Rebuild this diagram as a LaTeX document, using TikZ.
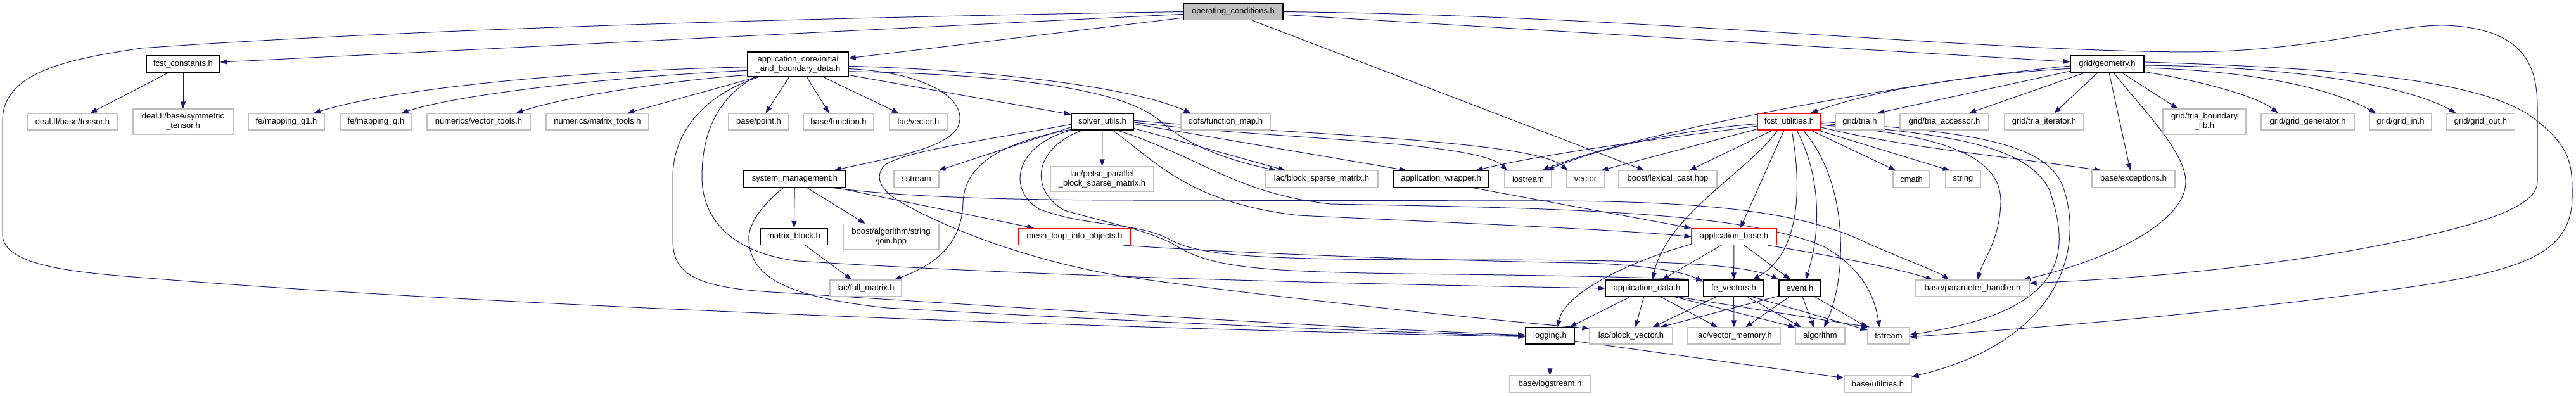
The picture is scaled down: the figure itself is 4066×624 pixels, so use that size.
\documentclass[tikz,border=0pt]{standalone}
\usepackage{fontspec}
\setmainfont{Liberation Sans}
\usetikzlibrary{arrows.meta,backgrounds}
\definecolor{edgeblue}{HTML}{191970}
\definecolor{boxgray}{HTML}{BFBFBF}
\newcommand{\nodefnt}{\fontsize{13}{15}\selectfont}
\tikzset{
  basebox/.style={rectangle, inner sep=0pt, minimum height=26pt, fill=white, font=\nodefnt, align=center},
  extbox/.style={basebox, draw=boxgray, line width=1.1pt},
  docbox/.style={basebox, draw=black, line width=1.4pt},
  redbox/.style={basebox, draw=red, line width=1.1pt},
  rootbox/.style={basebox, draw=black, line width=1.4pt, fill=boxgray},
  dep/.style={draw=edgeblue, line width=1.0pt, -{Triangle[length=11pt,width=8pt]}}
}
\begin{document}
\begin{tikzpicture}[x=1pt,y=-1pt]
\useasboundingbox (0,0) rectangle (4066,624);
% ---------------- nodes ----------------
\node[rootbox, minimum width=157pt] (oper) at (1946.5,18.5) {operating\_conditions.h};
\node[docbox, minimum width=116pt] (fconst) at (289,101) {fcst\_constants.h};
\node[docbox, minimum width=159pt, minimum height=39pt] (iabd) at (1259.5,101.5) {application\_core/initial\\\_and\_boundary\_data.h};
\node[docbox, minimum width=116pt] (geom) at (3326,101) {grid/geometry.h};
% row 3
\node[extbox, minimum width=143pt] (tensor) at (114.5,192) {deal.II/base/tensor.h};
\node[extbox, minimum width=158pt, minimum height=40pt] (symt) at (289,192) {deal.II/base/symmetric\\\_tensor.h};
\node[extbox, minimum width=120pt] (mq1) at (452,192) {fe/mapping\_q1.h};
\node[extbox, minimum width=113pt] (mq) at (593.5,192) {fe/mapping\_q.h};
\node[extbox, minimum width=163pt] (vtools) at (755.5,192) {numerics/vector\_tools.h};
\node[extbox, minimum width=162pt] (mtools) at (943,192) {numerics/matrix\_tools.h};
\node[extbox, minimum width=95pt] (point) at (1197.5,192) {base/point.h};
\node[extbox, minimum width=111pt] (func) at (1323.5,192) {base/function.h};
\node[extbox, minimum width=91pt] (lvec) at (1449.5,192) {lac/vector.h};
\node[docbox, minimum width=98pt] (solver) at (1740,192) {solver\_utils.h};
\node[extbox, minimum width=141pt] (fmap) at (1934.5,192) {dofs/function\_map.h};
\node[redbox, minimum width=100pt] (futil) at (2824,192) {fcst\_utilities.h};
\node[extbox, minimum width=77pt] (tria) at (2935.5,192) {grid/tria.h};
\node[extbox, minimum width=140pt] (triaacc) at (3069,192) {grid/tria\_accessor.h};
\node[extbox, minimum width=125pt] (triait) at (3226.5,192) {grid/tria\_iterator.h};
\node[extbox, minimum width=131pt, minimum height=40pt] (triab) at (3479.5,192) {grid/tria\_boundary\\\_lib.h};
\node[extbox, minimum width=147pt] (ggen) at (3642.5,192) {grid/grid\_generator.h};
\node[extbox, minimum width=98pt] (gin) at (3789,192) {grid/grid\_in.h};
\node[extbox, minimum width=107pt] (gout) at (3915.5,192) {grid/grid\_out.h};
% row 4
\node[docbox, minimum width=161pt] (sysm) at (1254.5,282.5) {system\_management.h};
\node[extbox, minimum width=71pt] (sstream) at (1446.5,282.5) {sstream};
\node[extbox, minimum width=163pt, minimum height=39pt] (petsc) at (1739.5,282.5) {lac/petsc\_parallel\\\_block\_sparse\_matrix.h};
\node[extbox, minimum width=178pt] (bsm) at (2086,282.5) {lac/block\_sparse\_matrix.h};
\node[docbox, minimum width=151pt] (awrap) at (2274.5,282.5) {application\_wrapper.h};
\node[extbox, minimum width=74pt] (iostream) at (2412,282.5) {iostream};
\node[extbox, minimum width=59pt] (vector) at (2502.5,282.5) {vector};
\node[extbox, minimum width=155pt] (lexcast) at (2632.5,282.5) {boost/lexical\_cast.hpp};
\node[extbox, minimum width=58pt] (cmath) at (3017,282.5) {cmath};
\node[extbox, minimum width=55pt] (string) at (3098.5,282.5) {string};
\node[extbox, minimum width=131pt] (except) at (3367.5,282.5) {base/exceptions.h};
% row 5
\node[docbox, minimum width=106pt] (mblock) at (1253,373.5) {matrix\_block.h};
\node[extbox, minimum width=151pt, minimum height=40pt] (join) at (1406.5,373.5) {boost/algorithm/string\\/join.hpp};
\node[redbox, minimum width=176pt] (mesh) at (1696,373.5) {mesh\_loop\_info\_objects.h};
\node[redbox, minimum width=134pt] (abase) at (2737,373.5) {application\_base.h};
% row 6
\node[extbox, minimum width=113pt] (fullm) at (1366.5,455) {lac/full\_matrix.h};
\node[docbox, minimum width=131pt] (adata) at (2599.5,455) {application\_data.h};
\node[docbox, minimum width=95pt] (fevec) at (2736.5,455) {fe\_vectors.h};
\node[docbox, minimum width=66pt] (event) at (2841,455) {event.h};
\node[extbox, minimum width=179pt] (param) at (3113.5,455) {base/parameter\_handler.h};
% row 7
\node[docbox, minimum width=77pt] (logging) at (2446.5,530) {logging.h};
\node[extbox, minimum width=131pt] (bvec) at (2574.5,530) {lac/block\_vector.h};
\node[extbox, minimum width=146pt] (vmem) at (2737,530) {lac/vector\_memory.h};
\node[extbox, minimum width=78pt] (algo) at (2873,530) {algorithm};
\node[extbox, minimum width=66pt] (fstream) at (2981,530) {fstream};
% row 8
\node[extbox, minimum width=127pt] (logstream) at (2446.5,606) {base/logstream.h};
\node[extbox, minimum width=106pt] (util) at (2964,606) {base/utilities.h};
% ---------------- edges ----------------
\begin{scope}[on background layer]
\fill[white] (0,0) rectangle (4066,624);
% operating_conditions
\draw[dep] (oper) -- (fconst);
\draw[dep] (oper) -- (iabd);
\draw[dep] (oper) -- (geom);
\draw[dep] ([xshift=30pt]oper.south) -- ([xshift=-37pt]lexcast.north);
\draw[dep] (oper.west) .. controls (1400,26) and (700,42) .. (223,76) .. controls (120,92) and (4,110) .. (4,190) -- (4,370) .. controls (4,420) and (120,430) .. (223,438) .. controls (700,478) and (1600,515) .. (logging.182);
\draw[dep] (oper.east) .. controls (2600,25) and (3100,80) .. (3450,82) .. controls (3650,82) and (3780,38) .. (3860,40) .. controls (3990,45) and (4005,110) .. (4005,171) -- (4005,287) .. controls (4005,330) and (3900,362) .. (3697,398) .. controls (3500,430) and (3350,440) .. (param.5);
% fcst_constants
\draw[dep] ([xshift=-23pt]fconst.south) -- ([xshift=28pt]tensor.north);
\draw[dep] (fconst) -- (symt);
% initial_and_boundary_data
\draw[dep] (iabd.183) .. controls (900,112) and (620,140) .. ([xshift=43pt]mq1.north);
\draw[dep] (iabd.187) .. controls (950,122) and (720,150) .. ([xshift=40pt]mq.north);
\draw[dep] (iabd.192) .. controls (1080,125) and (900,150) .. ([xshift=59pt]vtools.north);
\draw[dep] ([xshift=-65pt]iabd.south) -- ([xshift=47pt]mtools.north);
\draw[dep] ([xshift=-14pt]iabd.south) -- ([xshift=11pt]point.north);
\draw[dep] ([xshift=14pt]iabd.south) -- ([xshift=-15pt]func.north);
\draw[dep] ([xshift=40pt]iabd.south) -- ([xshift=-31pt]lvec.north);
\draw[dep] (iabd.-12) -- (solver.167);
\draw[dep] (iabd.-2) .. controls (1550,110) and (1780,135) .. ([xshift=-55pt]fmap.north);
\draw[dep] (iabd.-5) .. controls (1470,115) and (1530,160) .. (1512,200) .. controls (1495,235) and (1400,250) .. ([xshift=62pt]sysm.north);
\draw[dep] (iabd.-8) .. controls (1600,118) and (1770,140) .. (1830,190) .. controls (1880,235) and (1950,255) .. ([xshift=-72pt]bsm.north);
\draw[dep] ([xshift=-68pt]iabd.south) .. controls (1140,150) and (1108,200) .. (1108,279) .. controls (1108,350) and (1160,400) .. (1260,412) .. controls (1700,440) and (2250,450) .. (adata.west);
\draw[dep] ([xshift=-62pt]iabd.south) .. controls (1110,150) and (1062,210) .. (1062,279) -- (1062,378) .. controls (1062,430) and (1090,455) .. (1236,462) .. controls (1700,492) and (2200,522) .. (logging.178);
% solver_utils
\draw[dep] (solver.190) -- ([xshift=35pt]sstream.north);
\draw[dep] (solver.185) .. controls (1550,222) and (1420,240) .. (1395,262) .. controls (1380,280) and (1390,300) .. (1420,318) .. controls (1500,365) and (1650,420) .. (1800,440) .. controls (2000,468) and (2350,505) .. (bvec.170);
\draw[dep] (solver.194) .. controls (1580,225) and (1522,260) .. (1520,320) .. controls (1518,390) and (1470,420) .. ([xshift=45pt]fullm.north);
\draw[dep] (solver) -- (petsc);
\draw[dep] (solver.-12) -- ([xshift=-57pt]bsm.north);
\draw[dep] (solver.-4) -- ([xshift=-55pt]awrap.north);
\draw[dep] (solver.-1) .. controls (2000,220) and (2330,222) .. ([xshift=-33pt]iostream.north);
\draw[dep] (solver.2) .. controls (2050,212) and (2420,222) .. ([xshift=-28pt]vector.north);
\draw[dep] (solver.-40) .. controls (1830,260) and (1880,320) .. (2050,340) .. controls (2300,352) and (2550,362) .. (abase.west);
\draw[dep] (solver.-30) .. controls (1900,250) and (1950,305) .. (2100,322) .. controls (2400,328) and (2750,330) .. (2880,390) .. controls (2950,430) and (2960,480) .. ([xshift=-14pt]fstream.north);
\draw[dep] (solver.south west) .. controls (1600,230) and (1590,300) .. (1640,330) .. controls (1720,360) and (1800,350) .. (1850,380) .. controls (1900,405) and (2000,410) .. (2300,410) .. controls (2600,410) and (2750,415) .. (event.north west);
\draw[dep] ([xshift=-32pt]solver.south) .. controls (1630,235) and (1625,300) .. (1680,332) .. controls (1760,355) and (1820,365) .. (1860,390) .. controls (1920,425) and (2000,430) .. (2300,433) .. controls (2550,436) and (2650,440) .. (fevec.north west);
% mesh_loop_info_objects
\draw[dep] (mesh.-10) .. controls (1950,400) and (2300,412) .. (2500,415) .. controls (2600,418) and (2660,430) .. (fevec.168);
% system_management
\draw[dep] (sysm) -- (mblock);
\draw[dep] ([xshift=19pt]sysm.south) -- ([xshift=-41pt]join.north);
\draw[dep] ([xshift=65pt]sysm.south) -- ([xshift=-64pt]mesh.north);
\draw[dep] ([xshift=58pt]sysm.south) .. controls (1380,305) and (1500,316) .. (1800,316) -- (2450,317) .. controls (2700,318) and (2850,335) .. (2950,385) .. controls (3020,415) and (3060,430) .. ([xshift=-37pt]param.north);
\draw[dep] ([xshift=-18pt]sysm.south) .. controls (1195,330) and (1180,360) .. (1182,380) .. controls (1185,440) and (1250,470) .. (1400,486) .. controls (1800,508) and (2200,525) .. (logging.west);
% matrix_block
\draw[dep] ([xshift=18pt]mblock.south) -- ([xshift=-22pt]fullm.north);
% application_wrapper
\draw[dep] ([xshift=49pt]awrap.south) -- (abase.north west);
% grid/geometry
\draw[dep] (geom.183) .. controls (3000,130) and (2580,210) .. ([xshift=22pt]iostream.north);
\draw[dep] (geom.187) .. controls (3100,118) and (2950,145) .. ([xshift=34pt]futil.north);
\draw[dep] (geom.191) -- ([xshift=28pt]tria.north);
\draw[dep] ([xshift=-35pt]geom.south) -- ([xshift=39pt]triaacc.north);
\draw[dep] ([xshift=-15pt]geom.south) -- ([xshift=16pt]triait.north);
\draw[dep] ([xshift=3pt]geom.south) -- ([xshift=-5pt]except.north);
\draw[dep] ([xshift=10pt]geom.south) .. controls (3380,170) and (3450,240) .. (3450,287) .. controls (3450,350) and (3330,410) .. ([xshift=80pt]param.north);
\draw[dep] ([xshift=23pt]geom.south) -- ([xshift=-42pt]triab.north);
\draw[dep] (geom.-12) .. controls (3460,125) and (3560,150) .. ([xshift=-47pt]ggen.north);
\draw[dep] (geom.-6) .. controls (3560,112) and (3680,140) .. ([xshift=-39pt]gin.north);
\draw[dep] (geom.-2) .. controls (3620,105) and (3800,135) .. ([xshift=-39pt]gout.north);
\draw[dep] (geom.3) .. controls (3700,108) and (3900,125) .. (3990,180) .. controls (4060,230) and (4060,260) .. (4060,310) .. controls (4060,400) and (3980,425) .. (3825,450) .. controls (3550,490) and (3250,515) .. (fstream.-3);
% fcst_utilities
\draw[dep] (futil.188) .. controls (2650,215) and (2450,240) .. ([xshift=55pt]awrap.north);
\draw[dep] (futil.184) .. controls (2650,205) and (2520,235) .. ([xshift=30pt]iostream.north);
\draw[dep] (futil.193) -- ([xshift=25pt]vector.north);
\draw[dep] ([xshift=-26pt]futil.south) -- ([xshift=34pt]lexcast.north);
\draw[dep] ([xshift=-18pt]futil.south) .. controls (2760,270) and (2630,340) .. ([xshift=9pt]adata.north);
\draw[dep] ([xshift=-8pt]futil.south) -- ([xshift=10pt]abase.north);
\draw[dep] ([xshift=4pt]futil.south) .. controls (2845,300) and (2840,400) .. ([xshift=30pt]fevec.north);
\draw[dep] ([xshift=12pt]futil.south) .. controls (2880,290) and (2870,380) .. ([xshift=9pt]event.north);
\draw[dep] ([xshift=22pt]futil.south) .. controls (2920,290) and (2915,440) .. ([xshift=6pt]algo.north);
\draw[dep] ([xshift=34pt]futil.south) -- ([xshift=-25pt]cmath.north);
\draw[dep] ([xshift=45pt]futil.south) -- ([xshift=-21pt]string.north);
\draw[dep] (futil.-10) .. controls (3000,232) and (3150,245) .. ([xshift=-51pt]except.north);
\draw[dep] (futil.-6) .. controls (3050,212) and (3160,240) .. (3158,320) .. controls (3156,380) and (3130,410) .. ([xshift=8pt]param.north);
\draw[dep] (futil.-3) .. controls (3080,212) and (3200,230) .. (3235,300) .. controls (3265,390) and (3275,490) .. (fstream.3);
\draw[dep] (futil.0) .. controls (3100,208) and (3235,222) .. (3258,300) .. controls (3290,400) and (3245,540) .. (util.12);
% application_base
\draw[dep] (abase.190) .. controls (2580,410) and (2470,460) .. ([xshift=12pt]logging.north);
\draw[dep] ([xshift=-20pt]abase.south) -- ([xshift=24pt]adata.north);
\draw[dep] (abase) -- (fevec);
\draw[dep] ([xshift=16pt]abase.south) -- ([xshift=-15pt]event.north);
\draw[dep] ([xshift=53pt]abase.south) .. controls (2900,405) and (3000,425) .. ([xshift=-63pt]param.north);
% application_data
\draw[dep] ([xshift=-27pt]adata.south) -- ([xshift=31pt]logging.north);
\draw[dep] ([xshift=-5pt]adata.south) -- ([xshift=7pt]bvec.north);
\draw[dep] ([xshift=22pt]adata.south) -- ([xshift=-26pt]vmem.north);
\draw[dep] ([xshift=44pt]adata.south) -- (algo.north west);
\draw[dep] ([xshift=49pt]adata.south) -- (fstream.155);
% fe_vectors
\draw[dep] ([xshift=-28pt]fevec.south) -- ([xshift=34pt]bvec.north);
\draw[dep] (fevec) -- (vmem);
\draw[dep] ([xshift=22pt]fevec.south) -- ([xshift=-30pt]algo.north);
\draw[dep] ([xshift=30pt]fevec.south) -- (fstream.165);
% event
\draw[dep] (event.200) -- ([xshift=46pt]bvec.north);
\draw[dep] ([xshift=-17pt]event.south) -- ([xshift=18pt]vmem.north);
\draw[dep] ([xshift=4pt]event.south) -- ([xshift=-10pt]algo.north);
\draw[dep] ([xshift=24pt]event.south) -- (fstream.north west);
% logging
\draw[dep] (logging) -- (logstream);
\draw[dep] (logging.-12) -- (util.170);
\end{scope}
\end{tikzpicture}
\end{document}
